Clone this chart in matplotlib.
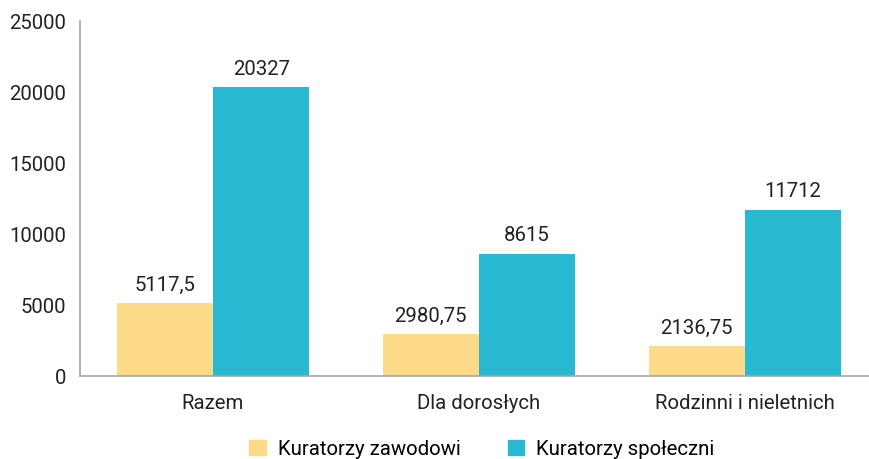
import numpy as np
import matplotlib.pyplot as plt
from matplotlib.patches import Patch

# Data
categories = ['Razem', 'Dla dorosłych', 'Rodzinni i nieletnich']
zawodowi = [5117.5, 2980.75, 2136.75]
spoleczni = [20327, 8615, 11712]
zawodowi_labels = ['5117,5', '2980,75', '2136,75']
spoleczni_labels = ['20327', '8615', '11712']
series_names = ['Kuratorzy zawodowi', 'Kuratorzy społeczni']

yellow = '#FDDA88'
blue = '#29B8D1'

plt.rcParams['font.family'] = ['Roboto', 'DejaVu Sans']

fig = plt.figure(figsize=(8.7, 4.6), dpi=100)
ax = fig.add_axes([80 / 870, 83 / 460, 790 / 870, 355 / 460])

x = np.arange(len(categories))
w = 0.3625
b1 = ax.bar(x - w / 2, zawodowi, width=w, color=yellow)
b2 = ax.bar(x + w / 2, spoleczni, width=w, color=blue)

for bars, labels in [(b1, zawodowi_labels), (b2, spoleczni_labels)]:
    for rect, lab in zip(bars, labels):
        ax.text(rect.get_x() + rect.get_width() / 2, rect.get_height() + 650, lab,
                ha='center', va='bottom', fontsize=14.7, color='#222222')

ax.set_xlim(-0.5, 2.47)
ax.set_ylim(0, 25000)
ax.set_yticks([0, 5000, 10000, 15000, 20000, 25000])
ax.set_xticks(x)
ax.set_xticklabels(categories)
ax.tick_params(axis='both', length=0, labelsize=14.7, colors='#222222')
ax.tick_params(axis='y', pad=10)
ax.tick_params(axis='x', pad=12)

for s in ['top', 'right']:
    ax.spines[s].set_visible(False)
for s in ['left', 'bottom']:
    ax.spines[s].set_color('#a6a6a6')
    ax.spines[s].set_linewidth(1.2)

handles = [Patch(color=yellow), Patch(color=blue)]
fig.legend(handles, series_names, loc='center', bbox_to_anchor=(482 / 870, 1 - 450 / 460),
           ncol=2, frameon=False, fontsize=14.7, handlelength=0.8, handleheight=0.8,
           columnspacing=2.3, handletextpad=0.6)

fig.savefig('out.png', dpi=100)
